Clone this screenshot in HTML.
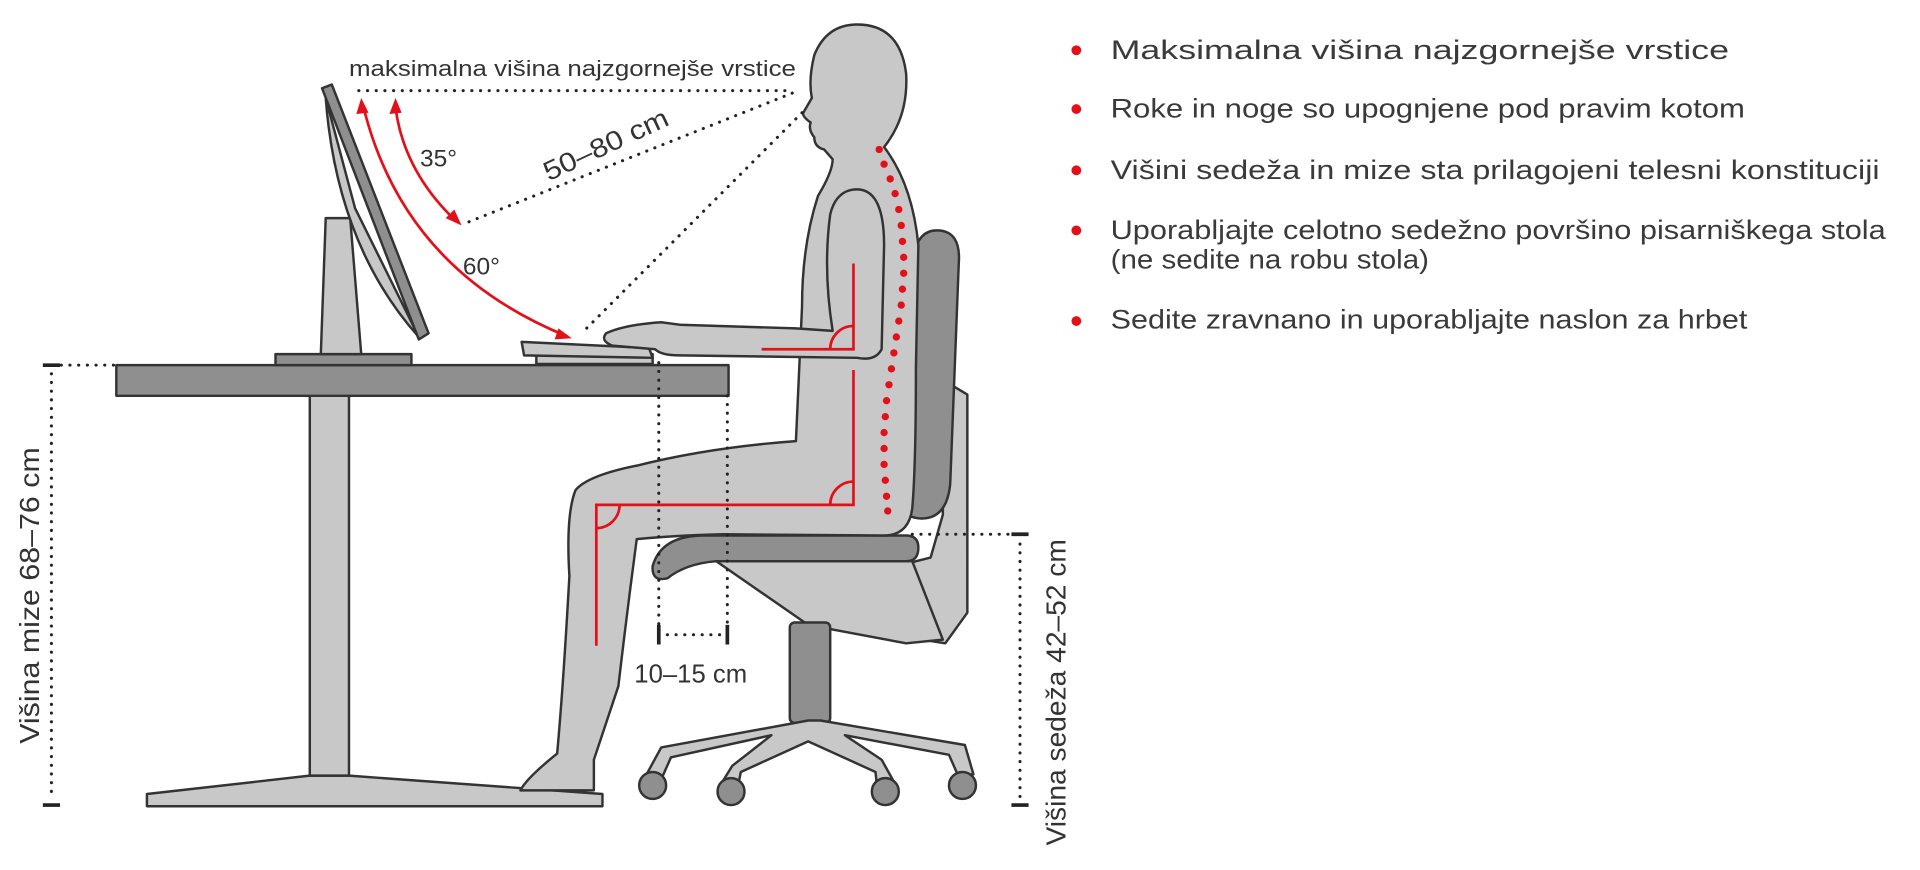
<!DOCTYPE html>
<html><head><meta charset="utf-8"><style>
html,body{margin:0;padding:0;background:#fff;}
svg{display:block}
</style></head><body>
<svg width="1920" height="870" viewBox="0 0 1568 710" preserveAspectRatio="none" xmlns="http://www.w3.org/2000/svg" font-family="Liberation Sans, sans-serif">
<g stroke="#333" stroke-width="2" stroke-linejoin="round">
<!-- table -->
<polygon points="120,648 253,633 285,633 492,648 492,658 120,658" fill="#c8c8c8"/>
<rect x="253" y="323" width="32" height="310" fill="#c8c8c8"/>
<rect x="95" y="298" width="500" height="25" fill="#8f8f8f"/>
<!-- monitor -->
<rect x="225" y="289" width="111" height="9" fill="#8f8f8f"/>
<polygon points="266,178 286,178 295,289 262,289" fill="#c8c8c8"/>
<path d="M266,80 Q275,200 342,275 L290,170 Z" fill="#c8c8c8"/>
<polygon points="263,72 271,69 350,272 342,277" fill="#8f8f8f"/>
<!-- keyboard -->
<rect x="438" y="289" width="95" height="8" fill="#c8c8c8"/>
<polygon points="426,279 530,284 533,292 428,290" fill="#c8c8c8"/>
<!-- chair -->
<polygon points="770,310 790,322 790,500 772,525 740,520 740,460 760,455 770,420" fill="#c8c8c8"/>
<polygon points="585,458 745,458 770,522 740,525 660,510" fill="#c8c8c8"/>
<rect x="645" y="508" width="33" height="82" rx="4" fill="#8f8f8f"/>
<path d="M660,588 L540,610 L528,632 L540,636 L548,618 L630,600 L598,625 L590,638 L603,640 L605,630 L660,605 L715,630 L716,640 L730,638 L720,620 L690,600 L775,616 L782,632 L795,632 L788,608 L670,588 Z" fill="#c8c8c8"/>
<circle cx="533" cy="641" r="11" fill="#8f8f8f"/>
<circle cx="597" cy="646" r="11" fill="#8f8f8f"/>
<circle cx="723" cy="646" r="11" fill="#8f8f8f"/>
<circle cx="786" cy="641" r="11" fill="#8f8f8f"/>
<path d="M575,437 L740,437 Q750,437 750,447 Q750,458 740,458 L585,458 Q560,460 545,472 Q532,475 533,462 Q540,437 575,437 Z" fill="#8f8f8f"/>
<path d="M765,188 Q785,188 783,215 L776,395 Q773,425 750,423 Q728,420 730,395 L745,215 Q748,188 765,188 Z" fill="#8f8f8f"/>
<!-- person -->
<path d="M700,20 Q735,20 740,60 Q742,95 722,120 Q745,150 750,200 L748,300 Q748,380 745,415 Q742,438 720,437 L590,436 Q550,437 520,440 Q512,500 505,560 L485,620 L485,645 L425,645 Q430,635 455,615 Q460,560 465,470 Q462,420 470,400 Q480,388 520,380 Q580,365 650,360 L655,250 Q655,200 668,160 Q680,140 680,130 L673,122 Q665,120 665,112 Q660,106 662,100 Q655,95 656,92 L663,80 Q660,65 665,45 Q675,20 700,20 Z" fill="#c8c8c8"/>
<path d="M695,155 Q722,150 722,200 L720,285 Q715,295 700,292 L555,290 Q540,290 535,285 L500,282 Q490,278 495,272 Q510,265 540,263 L555,265 L650,268 L680,270 Q672,220 678,175 Q682,158 695,155 Z" fill="#c8c8c8"/>
</g>
<!-- red angle lines -->
<g stroke="#e3101a" stroke-width="2.2" fill="none">
<path d="M697,215 V285 H622"/>
<path d="M678,285 A19,19 0 0 1 697,266"/>
<path d="M697,302 V412 H487 V527"/>
<path d="M678,412 A19,19 0 0 1 697,393"/>
<path d="M487,431 A19,19 0 0 0 506,412"/>
<path d="M323,88 Q330,140 372,180"/>
<path d="M297,88 Q330,220 462,274"/>
</g>
<g fill="#e3101a">
<polygon points="323,80 318,93 328,92"/>
<polygon points="377,184 364,178 371,171"/>
<polygon points="295,80 291,93 301,92"/>
<polygon points="467,276 453,277 456,268"/>
</g>
<g fill="#e3101a">
<circle cx="718" cy="122" r="3"/><circle cx="722" cy="134" r="3"/><circle cx="727" cy="146" r="3"/><circle cx="731" cy="158" r="3"/><circle cx="734" cy="171" r="3"/><circle cx="736" cy="184" r="3"/><circle cx="737" cy="197" r="3"/><circle cx="738" cy="210" r="3"/><circle cx="738" cy="223" r="3"/><circle cx="737" cy="236" r="3"/><circle cx="736" cy="249" r="3"/><circle cx="734" cy="262" r="3"/><circle cx="732" cy="275" r="3"/><circle cx="730" cy="288" r="3"/><circle cx="728" cy="301" r="3"/><circle cx="726" cy="314" r="3"/><circle cx="724" cy="327" r="3"/><circle cx="723" cy="340" r="3"/><circle cx="722" cy="353" r="3"/><circle cx="722" cy="366" r="3"/><circle cx="722" cy="379" r="3"/><circle cx="723" cy="392" r="3"/><circle cx="724" cy="405" r="3"/><circle cx="725" cy="417" r="3"/>
</g>
<!-- dotted lines -->
<g stroke="#222" stroke-width="2.5" stroke-dasharray="0.1 7" stroke-linecap="round" fill="none">
<path d="M293,74 H647"/>
<path d="M647,76 L378,183"/>
<path d="M655,92 L475,272"/>
<path d="M50,298 H95"/>
<path d="M42,305 V650"/>
<path d="M745,436 H830"/>
<path d="M833,444 V650"/>
<path d="M538,296 V512"/>
<path d="M594,323 V512"/>
<path d="M545,518 H590"/>
</g>
<g stroke="#222" stroke-width="3">
<path d="M35,298 H49 M35,657 H49 M826,436 H840 M826,657 H840 M538,510 V526 M594,510 V526"/>
</g>
<!-- labels -->
<g fill="#333">
<text x="285" y="62" font-size="18" textLength="365" lengthAdjust="spacingAndGlyphs">maksimalna višina najzgornejše vrstice</text>
<text x="343" y="136" font-size="20">35°</text>
<text x="378" y="224" font-size="20">60°</text>
<text transform="translate(448,148) rotate(-25)" font-size="22" textLength="110" lengthAdjust="spacingAndGlyphs">50–80 cm</text>
<text x="518" y="557" font-size="21">10–15 cm</text>
<text transform="translate(32,607) rotate(-90)" font-size="23" textLength="242" lengthAdjust="spacingAndGlyphs">Višina mize  68–76 cm</text>
<text transform="translate(870,690) rotate(-90)" font-size="23" textLength="250" lengthAdjust="spacingAndGlyphs">Višina sedeža  42–52 cm</text>
</g>
<!-- bullet list -->
<g fill="#e3101a">
<circle cx="879" cy="41" r="4"/><circle cx="879" cy="89" r="4"/><circle cx="879" cy="139" r="4"/><circle cx="879" cy="188" r="4"/><circle cx="879" cy="262" r="4"/>
</g>
<g fill="#3a3a3a" font-size="22">
<text x="907" y="48" textLength="505" lengthAdjust="spacingAndGlyphs">Maksimalna višina najzgornejše vrstice</text>
<text x="907" y="96" textLength="518" lengthAdjust="spacingAndGlyphs">Roke in noge so upognjene pod pravim kotom</text>
<text x="907" y="146" textLength="628" lengthAdjust="spacingAndGlyphs">Višini sedeža in mize sta prilagojeni telesni konstituciji</text>
<text x="907" y="195" textLength="633" lengthAdjust="spacingAndGlyphs">Uporabljajte celotno sedežno površino pisarniškega stola</text>
<text x="907" y="219" textLength="260" lengthAdjust="spacingAndGlyphs">(ne sedite na robu stola)</text>
<text x="907" y="268" textLength="520" lengthAdjust="spacingAndGlyphs">Sedite zravnano in uporabljajte naslon za hrbet</text>
</g>
</svg>
</body></html>
